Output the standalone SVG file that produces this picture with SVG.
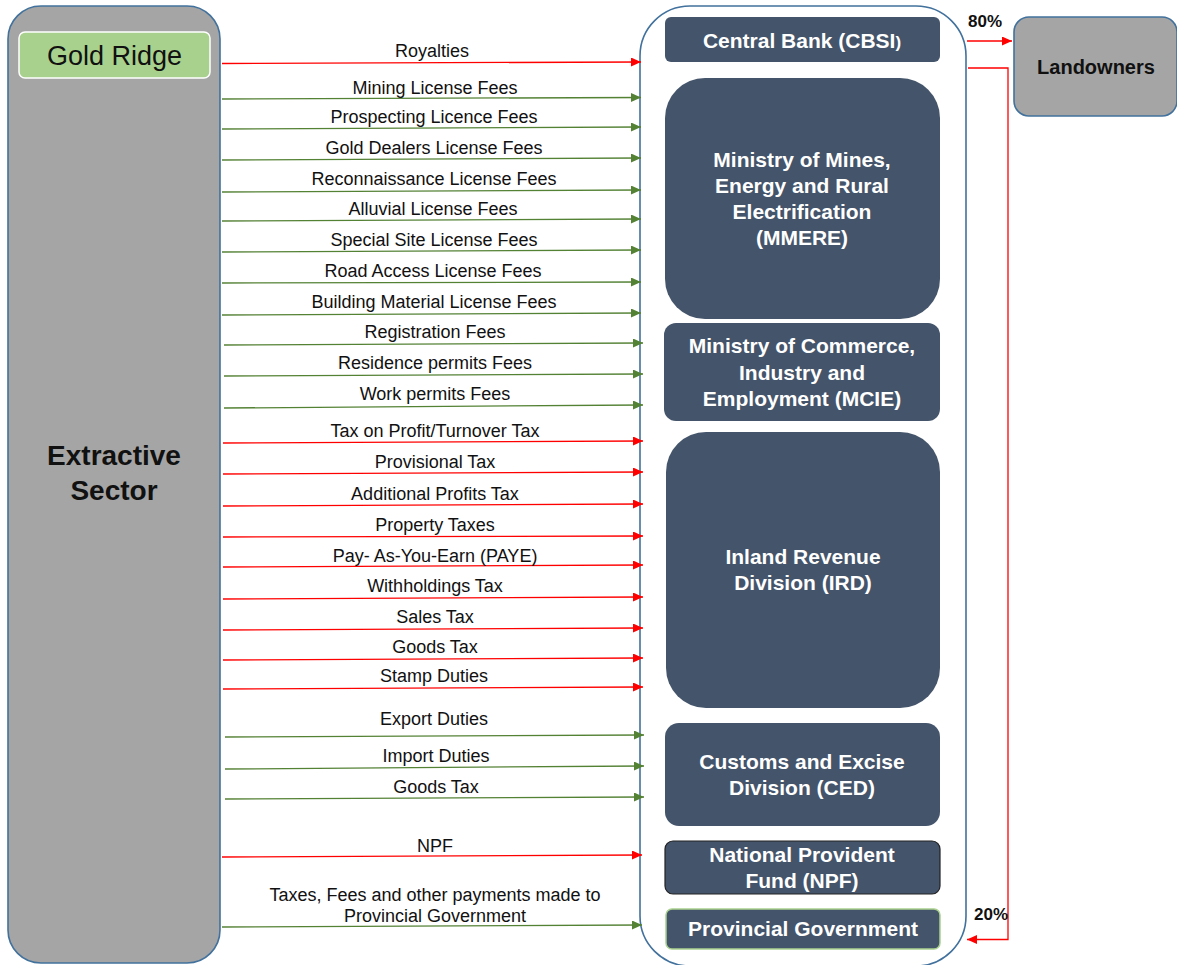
<svg xmlns="http://www.w3.org/2000/svg" width="1177" height="965" viewBox="0 0 1177 965">
<style>
.lbl{font-family:"Liberation Sans",Arial,sans-serif;font-size:18px;fill:#111;text-anchor:middle}
.box{fill:#44546a}
.bt{font-family:"Liberation Sans",Arial,sans-serif;font-size:21px;font-weight:bold;fill:#fff;text-anchor:middle}
.red{stroke:#ff0000;stroke-width:1.3;fill:none}
.grn{stroke:#548235;stroke-width:1.3;fill:none}
.pct{font-family:"Liberation Sans",Arial,sans-serif;font-size:17px;font-weight:bold;fill:#111;text-anchor:middle}
</style>
<defs>
<marker id="ar" markerUnits="userSpaceOnUse" markerWidth="11" markerHeight="10" refX="10" refY="4.5" orient="auto"><path d="M0,0 L10,4.5 L0,9 Z" fill="#ff0000"/></marker>
<marker id="ag" markerUnits="userSpaceOnUse" markerWidth="11" markerHeight="10" refX="10" refY="4.5" orient="auto"><path d="M0,0 L10,4.5 L0,9 Z" fill="#548235"/></marker>
</defs>
<rect width="1177" height="965" fill="#fff"/>

<g id="extractive-sector">
<rect x="8" y="6" width="212" height="957" rx="33" fill="#a5a5a5" stroke="#41719c" stroke-width="1.6"/>
<text x="114" y="465" font-family="'Liberation Sans',Arial,sans-serif" font-size="28" font-weight="bold" text-anchor="middle" fill="#111">Extractive</text>
<text x="114" y="500" font-family="'Liberation Sans',Arial,sans-serif" font-size="28" font-weight="bold" text-anchor="middle" fill="#111">Sector</text>
</g>
<g id="gold-ridge">
<rect x="19" y="32" width="191" height="46" rx="6" fill="#a9d18e" stroke="#fff" stroke-width="1.5"/>
<text x="114.5" y="65" font-family="'Liberation Sans',Arial,sans-serif" font-size="27" text-anchor="middle" fill="#111">Gold Ridge</text>
</g>

<g id="government-container">
<rect x="640" y="6" width="326" height="960" rx="50" fill="#fff" stroke="#41719c" stroke-width="1.6"/>
</g>
<g id="cbsi">
<rect class="box" x="665" y="17" width="275" height="45" rx="6"/>
<text class="bt" x="802" y="48">Central Bank (CBSI<tspan font-size="17">)</tspan></text>
</g>
<g id="mmere">
<rect class="box" x="665" y="78" width="275" height="241" rx="40"/>
<text class="bt" x="802" y="167">Ministry of Mines,</text>
<text class="bt" x="802" y="193">Energy and Rural</text>
<text class="bt" x="802" y="219">Electrification</text>
<text class="bt" x="802" y="245">(MMERE)</text>
</g>
<g id="mcie">
<rect class="box" x="664" y="323" width="276" height="98" rx="12"/>
<text class="bt" x="802" y="353">Ministry of Commerce,</text>
<text class="bt" x="802" y="380">Industry and</text>
<text class="bt" x="802" y="406">Employment (MCIE)</text>
</g>
<g id="ird">
<rect class="box" x="666" y="432" width="274" height="276" rx="40"/>
<text class="bt" x="803" y="564">Inland Revenue</text>
<text class="bt" x="803" y="590">Division (IRD)</text>
</g>
<g id="ced">
<rect class="box" x="665" y="723" width="275" height="103" rx="14"/>
<text class="bt" x="802" y="769">Customs and Excise</text>
<text class="bt" x="802" y="795">Division (CED)</text>
</g>
<g id="npf">
<rect class="box" x="665" y="841" width="275" height="53" rx="8" stroke="#222" stroke-width="1.2"/>
<text class="bt" x="802" y="862">National Provident</text>
<text class="bt" x="802" y="888">Fund (NPF)</text>
</g>
<g id="provincial-government">
<rect class="box" x="666" y="909" width="274" height="40" rx="6" stroke="#a9d18e" stroke-width="1.5"/>
<text class="bt" x="803" y="936">Provincial Government</text>
</g>
<g id="landowners">
<rect x="1014" y="17" width="163" height="99" rx="15" fill="#a5a5a5" stroke="#41719c" stroke-width="1.6"/>
<text x="1096" y="74" font-family="'Liberation Sans',Arial,sans-serif" font-size="20" font-weight="bold" text-anchor="middle" fill="#111">Landowners</text>
</g>

<g id="connectors">
<line class="red" x1="222" y1="63.5" x2="641" y2="62" marker-end="url(#ar)"/>
<text class="lbl" x="432" y="57">Royalties</text>
<line class="grn" x1="222" y1="99" x2="641" y2="97.5" marker-end="url(#ag)"/>
<text class="lbl" x="435" y="94">Mining License Fees</text>
<line class="grn" x1="222" y1="129" x2="641" y2="127" marker-end="url(#ag)"/>
<text class="lbl" x="434" y="123">Prospecting Licence Fees</text>
<line class="grn" x1="222" y1="160" x2="641" y2="158" marker-end="url(#ag)"/>
<text class="lbl" x="434" y="154">Gold Dealers License Fees</text>
<line class="grn" x1="222" y1="192" x2="641" y2="190" marker-end="url(#ag)"/>
<text class="lbl" x="434" y="185">Reconnaissance License Fees</text>
<line class="grn" x1="222" y1="221" x2="641" y2="219" marker-end="url(#ag)"/>
<text class="lbl" x="433" y="215">Alluvial License Fees</text>
<line class="grn" x1="222" y1="252" x2="641" y2="250" marker-end="url(#ag)"/>
<text class="lbl" x="434" y="246">Special Site License Fees</text>
<line class="grn" x1="222" y1="283" x2="641" y2="282" marker-end="url(#ag)"/>
<text class="lbl" x="433" y="277">Road Access License Fees</text>
<line class="grn" x1="222" y1="315" x2="641" y2="313" marker-end="url(#ag)"/>
<text class="lbl" x="434" y="308">Building Material License Fees</text>
<line class="grn" x1="224" y1="345" x2="643" y2="343" marker-end="url(#ag)"/>
<text class="lbl" x="435" y="338">Registration Fees</text>
<line class="grn" x1="224" y1="376" x2="643" y2="374" marker-end="url(#ag)"/>
<text class="lbl" x="435" y="369">Residence permits Fees</text>
<line class="grn" x1="224" y1="408" x2="643" y2="405" marker-end="url(#ag)"/>
<text class="lbl" x="435" y="400">Work permits Fees</text>
<line class="red" x1="223" y1="443" x2="643" y2="441" marker-end="url(#ar)"/>
<text class="lbl" x="435" y="437">Tax on Profit/Turnover Tax</text>
<line class="red" x1="223" y1="474" x2="643" y2="472" marker-end="url(#ar)"/>
<text class="lbl" x="435" y="468">Provisional Tax</text>
<line class="red" x1="223" y1="506" x2="643" y2="504" marker-end="url(#ar)"/>
<text class="lbl" x="435" y="500">Additional Profits Tax</text>
<line class="red" x1="223" y1="537" x2="643" y2="536" marker-end="url(#ar)"/>
<text class="lbl" x="435" y="531">Property Taxes</text>
<line class="red" x1="223" y1="567" x2="643" y2="565" marker-end="url(#ar)"/>
<text class="lbl" x="435" y="562">Pay- As-You-Earn (PAYE)</text>
<line class="red" x1="223" y1="599" x2="643" y2="597" marker-end="url(#ar)"/>
<text class="lbl" x="435" y="592">Withholdings Tax</text>
<line class="red" x1="223" y1="630" x2="643" y2="628" marker-end="url(#ar)"/>
<text class="lbl" x="435" y="623">Sales Tax</text>
<line class="red" x1="223" y1="660" x2="643" y2="658" marker-end="url(#ar)"/>
<text class="lbl" x="435" y="653">Goods Tax</text>
<line class="red" x1="223" y1="689" x2="643" y2="687" marker-end="url(#ar)"/>
<text class="lbl" x="434" y="682">Stamp Duties</text>
<line class="grn" x1="225" y1="737" x2="644" y2="735" marker-end="url(#ag)"/>
<text class="lbl" x="434" y="725">Export Duties</text>
<line class="grn" x1="225" y1="769" x2="644" y2="766" marker-end="url(#ag)"/>
<text class="lbl" x="436" y="762">Import Duties</text>
<line class="grn" x1="225" y1="799" x2="644" y2="797" marker-end="url(#ag)"/>
<text class="lbl" x="436" y="793">Goods Tax</text>
<line class="red" x1="222" y1="857" x2="642" y2="855" marker-end="url(#ar)"/>
<text class="lbl" x="435" y="852">NPF</text>
<line class="grn" x1="222" y1="927" x2="642" y2="925" marker-end="url(#ag)"/>
<text class="lbl" x="435" y="901">Taxes, Fees and other payments made to</text>
<text class="lbl" x="435" y="922">Provincial Government</text>

<line class="red" x1="967" y1="41" x2="1012" y2="41" marker-end="url(#ar)"/>
<text class="pct" x="985" y="27">80%</text>
<polyline class="red" points="968,68 1008,68 1008,939.5 967,939.5" marker-end="url(#ar)"/>
<text class="pct" x="991" y="920">20%</text>
</g>
</svg>
